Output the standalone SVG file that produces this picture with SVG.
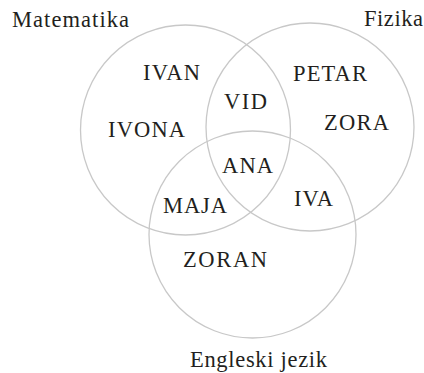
<svg xmlns="http://www.w3.org/2000/svg" width="424" height="373" viewBox="0 0 424 373">
<style>
.c{fill:none;stroke:#c8c8c8;stroke-width:1.3}
.m{text-anchor:middle}
</style>
<rect width="424" height="373" fill="#fff"/>
<g id="connectors"/>
<g font-family="Liberation Serif" font-size="22.5" fill="#231f20">
<g id="set-matematika">
<circle class="c" cx="185.5" cy="130" r="105"/>
<text x="12" y="27" textLength="117">Matematika</text>
</g>
<g id="set-fizika">
<circle class="c" cx="310" cy="127" r="104"/>
<text x="423" y="26" text-anchor="end" textLength="59">Fizika</text>
</g>
<g id="set-engleski">
<circle class="c" cx="252.5" cy="234.5" r="103.5"/>
<text class="m" x="258.5" y="367" textLength="137">Engleski jezik</text>
</g>
<g id="n-ivan"><text class="m" x="171.5" y="80" textLength="57">IVAN</text></g>
<g id="n-ivona"><text class="m" x="146.5" y="137" textLength="77">IVONA</text></g>
<g id="n-petar"><text class="m" x="330" y="81" textLength="74">PETAR</text></g>
<g id="n-vid"><text class="m" x="245.5" y="109" textLength="43">VID</text></g>
<g id="n-zora"><text class="m" x="356.5" y="130" textLength="65">ZORA</text></g>
<g id="n-ana"><text class="m" x="247.5" y="173" textLength="51">ANA</text></g>
<g id="n-maja"><text class="m" x="195" y="213" textLength="64">MAJA</text></g>
<g id="n-iva"><text class="m" x="313.5" y="206" textLength="39">IVA</text></g>
<g id="n-zoran"><text class="m" x="225" y="267" textLength="84">ZORAN</text></g>
</g>
</svg>
